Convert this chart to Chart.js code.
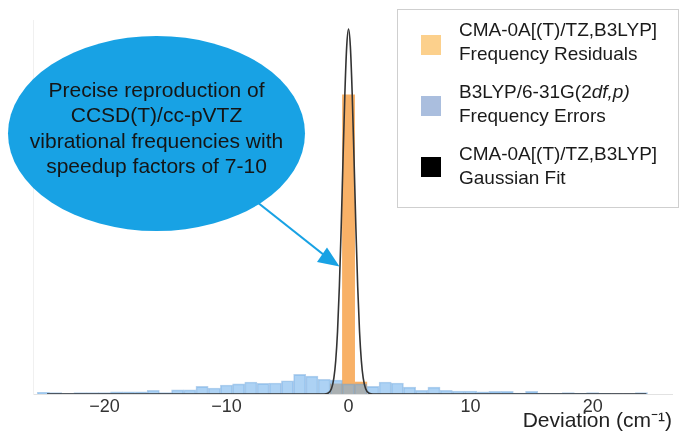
<!DOCTYPE html>
<html>
<head>
<meta charset="utf-8">
<script src="https://cdn.jsdelivr.net/npm/chart.js@4/dist/chart.umd.min.js"></script>
<style>
  body { margin: 0; background: #fff; font-family: "Liberation Sans", Arial, sans-serif; }
  #wrap { position: relative; width: 681px; height: 431px; overflow: hidden; }
  #chart { position: absolute; left: 0; top: 0; }
  .bubble { position: absolute; left: 8px; top: 36px; width: 297px; height: 195px; border-radius: 50%; background: #18a2e4; }
  .bubble-text { position: absolute; left: 8px; top: 77px; width: 297px; text-align: center;
    font-size: 21px; line-height: 25.4px; color: #151515; white-space: nowrap; }
  #arrow { position: absolute; left: 0; top: 0; }
  .legend { position: absolute; left: 397px; top: 9px; width: 282px; height: 199px; box-sizing: border-box;
    border: 1px solid #cfcfcf; background: #fff; }
  .swatch { position: absolute; width: 20px; height: 20px; }
  .label { position: absolute; font-size: 19px; line-height: 23.4px; color: #1a1a1a; white-space: nowrap; }
</style>
</head>
<body>
<div id="wrap">
  <canvas id="chart" width="681" height="431"></canvas>
  <div class="bubble"></div>
  <div class="bubble-text">Precise reproduction of<br>CCSD(T)/cc-pVTZ<br>vibrational frequencies with<br>speedup factors of 7-10</div>
  <svg id="arrow" width="681" height="431">
    <line x1="257" y1="202" x2="324" y2="255" stroke="#18a2e4" stroke-width="2.2"/>
    <polygon points="339.5,266.5 327,247.5 317,262" fill="#18a2e4"/>
  </svg>
  <div class="legend" id="legend"></div>
</div>
<script>
// histogram bins (cm-1), bin width 1
const binCenters = [-25, -24, -23, -22, -21, -20, -19, -18, -17, -16, -15, -14, -13, -12, -11, -10, -9, -8, -7, -6, -5, -4, -3, -2, -1,
  0, 1, 2, 3, 4, 5, 6, 7, 8, 9, 10, 11, 12, 13, 14, 15, 16, 17, 18, 19, 20, 21, 22, 23, 24];
const b3lypErrors = [0.45, 0.35, 0.1, 0.35, 0.4, 0.4, 0.55, 0.6, 0.6, 1.0, 0.35, 1.1, 1.1, 2.05, 1.6, 2.4, 2.7, 3.2, 2.85, 2.95, 3.55, 5.25, 4.8, 3.95, 3.75,
  2.7, 2.7, 2.05, 3.2, 2.95, 1.85, 1.0, 1.85, 1.0, 0.8, 0.8, 0.55, 0.7, 0.7, 0.25, 0.7, 0.25, 0.15, 0.35, 0.15, 0.35, 0.15, 0.1, 0.1, 0.35];

const cmaCenters = [-1, 0, 1];
const cmaResiduals = [2.7, 80, 3.2];

// gaussian fit
const fitX = [-24.7, -2.0, -1.7, -1.4, -1.2, -1.05, -0.9, -0.75, -0.6, -0.45, -0.3, -0.15, 0,
  0.15, 0.3, 0.45, 0.6, 0.75, 0.9, 1.05, 1.2, 1.4, 1.7, 2.0, 24.4];
const fitY = [0, 0, 0.2, 1.4, 4.3, 8.9, 16.8, 28.8, 44.7, 62.9, 80.3, 92.9, 97.6,
  92.9, 80.3, 62.9, 44.7, 28.8, 16.8, 8.9, 4.3, 1.4, 0.2, 0, 0];

const xTicks = [-20, -10, 0, 10, 20];
const xTickLabels = ['\u221220', '\u221210', '0', '10', '20'];

const legendItems = [
  { color: '#fcd08c', lines: ['CMA-0A[(T)/TZ,B3LYP]', 'Frequency Residuals'] },
  { color: '#aabede', lines: ['B3LYP/6-31G(2<i>df,p)</i>', 'Frequency Errors'] },
  { color: '#000000', lines: ['CMA-0A[(T)/TZ,B3LYP]', 'Gaussian Fit'] }
];

const FONT = "'Liberation Sans', Arial, sans-serif";

// legend
const legend = document.getElementById('legend');
legendItems.forEach((it, i) => {
  const sw = document.createElement('div');
  sw.className = 'swatch';
  sw.style.left = '23px';
  sw.style.top = (24.5 + i * 61.3) + 'px';
  sw.style.background = it.color;
  legend.appendChild(sw);
  const lab = document.createElement('div');
  lab.className = 'label';
  lab.style.left = '61px';
  lab.style.top = (8.3 + i * 62) + 'px';
  lab.innerHTML = it.lines.join('<br>');
  legend.appendChild(lab);
});

const ctx = document.getElementById('chart').getContext('2d');
new Chart(ctx, {
  type: 'bar',
  data: {
    datasets: [
      {
        type: 'line',
        label: 'Gaussian Fit',
        data: fitX.map((x, i) => ({ x: x, y: fitY[i] })),
        borderColor: '#333333',
        borderWidth: 1.6,
        pointRadius: 0,
        cubicInterpolationMode: 'monotone',
        order: 0
      },
      {
        label: 'B3LYP Frequency Errors',
        data: binCenters.map((x, i) => ({ x: x, y: b3lypErrors[i] })),
        backgroundColor: 'rgba(110,175,235,0.57)',
        borderColor: 'rgba(95,155,215,0.45)',
        borderWidth: 1,
        grouped: false,
        barPercentage: 1,
        categoryPercentage: 1,
        order: 1
      },
      {
        label: 'CMA-0A Frequency Residuals',
        data: cmaCenters.map((x, i) => ({ x: x, y: cmaResiduals[i] })),
        backgroundColor: '#f8b167',
        borderWidth: 0,
        grouped: false,
        barPercentage: 1,
        categoryPercentage: 1,
        order: 2
      }
    ]
  },
  options: {
    responsive: false,
    animation: false,
    layout: { padding: { left: 33, right: 9, top: 20, bottom: 0 } },
    plugins: { legend: { display: false }, tooltip: { enabled: false } },
    scales: {
      x: {
        type: 'linear',
        min: -25.85,
        max: 26.5,
        offset: false,
        grid: { display: false, drawTicks: false },
        border: { display: true, color: '#e2e2e2', dash: [2, 4], width: 1 },
        afterBuildTicks: (scale) => { scale.ticks = xTicks.map(v => ({ value: v })); },
        ticks: {
          padding: 2,
          color: '#333',
          font: { family: FONT, size: 18 },
          maxRotation: 0,
          autoSkip: false,
          callback: (v) => xTickLabels[xTicks.indexOf(v)]
        },
        title: {
          display: true,
          text: 'Deviation (cm\u207B\u00B9)',
          align: 'end',
          color: '#222',
          font: { family: FONT, size: 21 },
          padding: { top: -11.2, bottom: -2.6 }
        }
      },
      y: {
        min: 0,
        max: 100,
        grid: { display: false, drawTicks: false },
        ticks: { display: false },
        border: { display: true, color: '#f0f0f0', dash: [1, 7], width: 1 }
      }
    }
  }
});
</script>
</body>
</html>
